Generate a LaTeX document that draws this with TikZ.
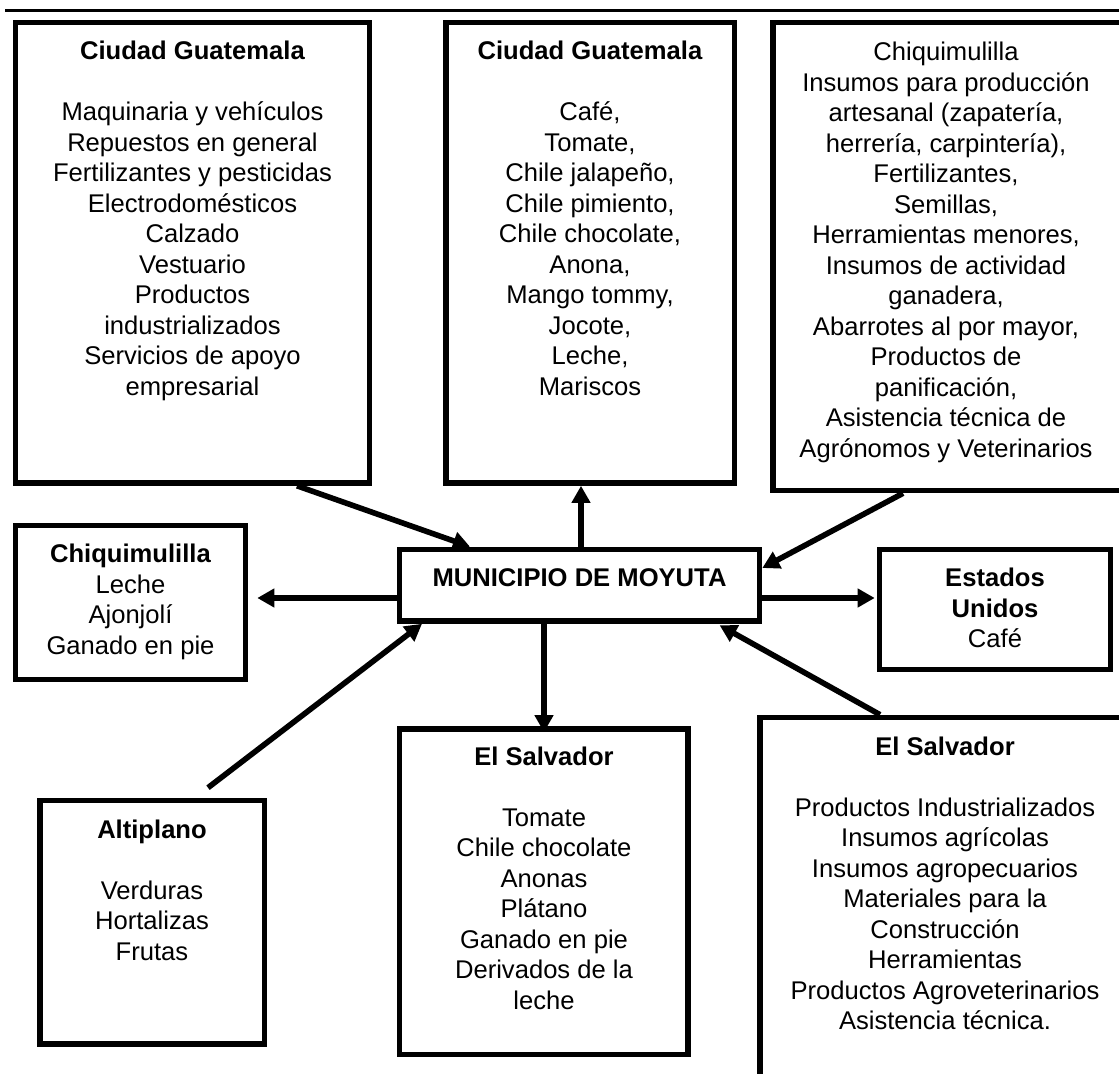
\documentclass[tikz,border=0pt]{standalone}
\usepackage{fontspec}
\setmainfont{Liberation Sans}
\usetikzlibrary{arrows.meta,calc}
\begin{document}
\begin{tikzpicture}[x=0.5pt,y=-0.5pt,
  box/.style={draw,line width=2.8pt,rectangle,inner sep=0pt},
  txt/.style={inner sep=0pt,anchor=base,font=\fontsize{12.8pt}{15.25pt}\selectfont},
  arr/.style={line width=2.8pt,-{Triangle[length=8.5pt,width=9pt]}},
  rule/.style={line width=1.6pt}]
\useasboundingbox (0,0) rectangle (1119,1074);
\clip (0,0) rectangle (1119,1074);
\fill[white] (0,0) rectangle (1119,1074);
% top rule
\coordinate (rl) at (5,10.7);
\coordinate (rr) at (1119,10.7);
\draw[rule] (rl) -- (rr);
% boxes
\node[box,minimum width=177pt,minimum height=230.25pt] (b1) at (192.5,252.75) {};
\node[box,minimum width=144.25pt,minimum height=230.25pt] (b2) at (590.25,252.75) {};
\node[box,minimum width=181pt,minimum height=234pt] (b3) at (954,256.5) {};
\node[box,minimum width=180pt,minimum height=35.75pt] (mun) at (579.5,585.25) {};
\node[box,minimum width=115pt,minimum height=77pt] (chq) at (130.5,602.5) {};
\node[box,minimum width=115.5pt,minimum height=60pt] (eu) at (995,609.5) {};
\node[box,minimum width=144.25pt,minimum height=162.75pt] (esm) at (543.75,891.75) {};
\node[box,minimum width=190pt,minimum height=191.25pt] (esr) at (950,908.75) {};
\node[box,minimum width=112.25pt,minimum height=121.75pt] (alt) at (152.25,922.25) {};
% texts
\node[txt] (t1) at (192.5,60) {\parbox[t]{170pt}{\centering
  \textbf{Ciudad Guatemala}\\[15.25pt]
  Maquinaria y vehículos\\
  Repuestos en general\\
  Fertilizantes y pesticidas\\
  Electrodomésticos\\
  Calzado\\
  Vestuario\\
  Productos\\
  industrializados\\
  Servicios de apoyo\\
  empresarial}};
\node[txt] (t2) at (590,60) {\parbox[t]{140pt}{\centering
  \textbf{Ciudad Guatemala}\\[15.25pt]
  Café,\\
  Tomate,\\
  Chile jalapeño,\\
  Chile pimiento,\\
  Chile chocolate,\\
  Anona,\\
  Mango tommy,\\
  Jocote,\\
  Leche,\\
  Mariscos}};
\node[txt] (t3) at (946,61) {\parbox[t]{172pt}{\centering
  Chiquimulilla\\
  Insumos para producción\\
  artesanal (zapatería,\\
  herrería, carpintería),\\
  Fertilizantes,\\
  Semillas,\\
  Herramientas menores,\\
  Insumos de actividad\\
  ganadera,\\
  Abarrotes al por mayor,\\
  Productos de\\
  panificación,\\
  Asistencia técnica de\\
  Agrónomos y Veterinarios}};
\node[txt] (t4) at (130.5,563) {\parbox[t]{110pt}{\centering
  \textbf{Chiquimulilla}\\
  Leche\\
  Ajonjolí\\
  Ganado en pie}};
\node[txt] (t5) at (995,587) {\parbox[t]{110pt}{\centering
  \textbf{Estados}\\
  \textbf{Unidos}\\
  Café}};
\node[txt] (t6) at (579.5,587) {\textbf{MUNICIPIO DE MOYUTA}};
\node[txt] (t7) at (544,765) {\parbox[t]{140pt}{\centering
  \textbf{El Salvador}\\[15.25pt]
  Tomate\\
  Chile chocolate\\
  Anonas\\
  Plátano\\
  Ganado en pie\\
  Derivados de la\\
  leche}};
\node[txt] (t8) at (945,755) {\parbox[t]{172pt}{\centering
  \textbf{El Salvador}\\[15.25pt]
  Productos Industrializados\\
  Insumos agrícolas\\
  Insumos agropecuarios\\
  Materiales para la\\
  Construcción\\
  Herramientas\\
  Productos Agroveterinarios\\
  Asistencia técnica.}};
\node[txt] (t9) at (152,838) {\parbox[t]{110pt}{\centering
  \textbf{Altiplano}\\[15.25pt]
  Verduras\\
  Hortalizas\\
  Frutas}};
% arrows
\draw[arr] (b1.south -| 297,0) -- (mun.north -| 470,0);
\draw[arr] (mun.north -| 581,0) -- (b2.south -| 581,0);
\draw[arr] (b3.south -| 903,0) -- (mun.east |- 0,568);
\draw[arr,shorten >=4.5pt] (mun.west |- 0,598) -- (chq.east |- 0,598);
\draw[arr,shorten >=1pt] (mun.east |- 0,598) -- (eu.west |- 0,598);
\draw[arr] ($(alt.north -| 208,0)+(0,-10)$) -- (mun.south -| 422,0);
\draw[arr,shorten >=-3pt] (mun.south -| 544,0) -- (esm.north -| 544,0);
\draw[arr,shorten >=1.5pt] (esr.north -| 880,0) -- (mun.south -| 717,0);
\end{tikzpicture}
\end{document}
